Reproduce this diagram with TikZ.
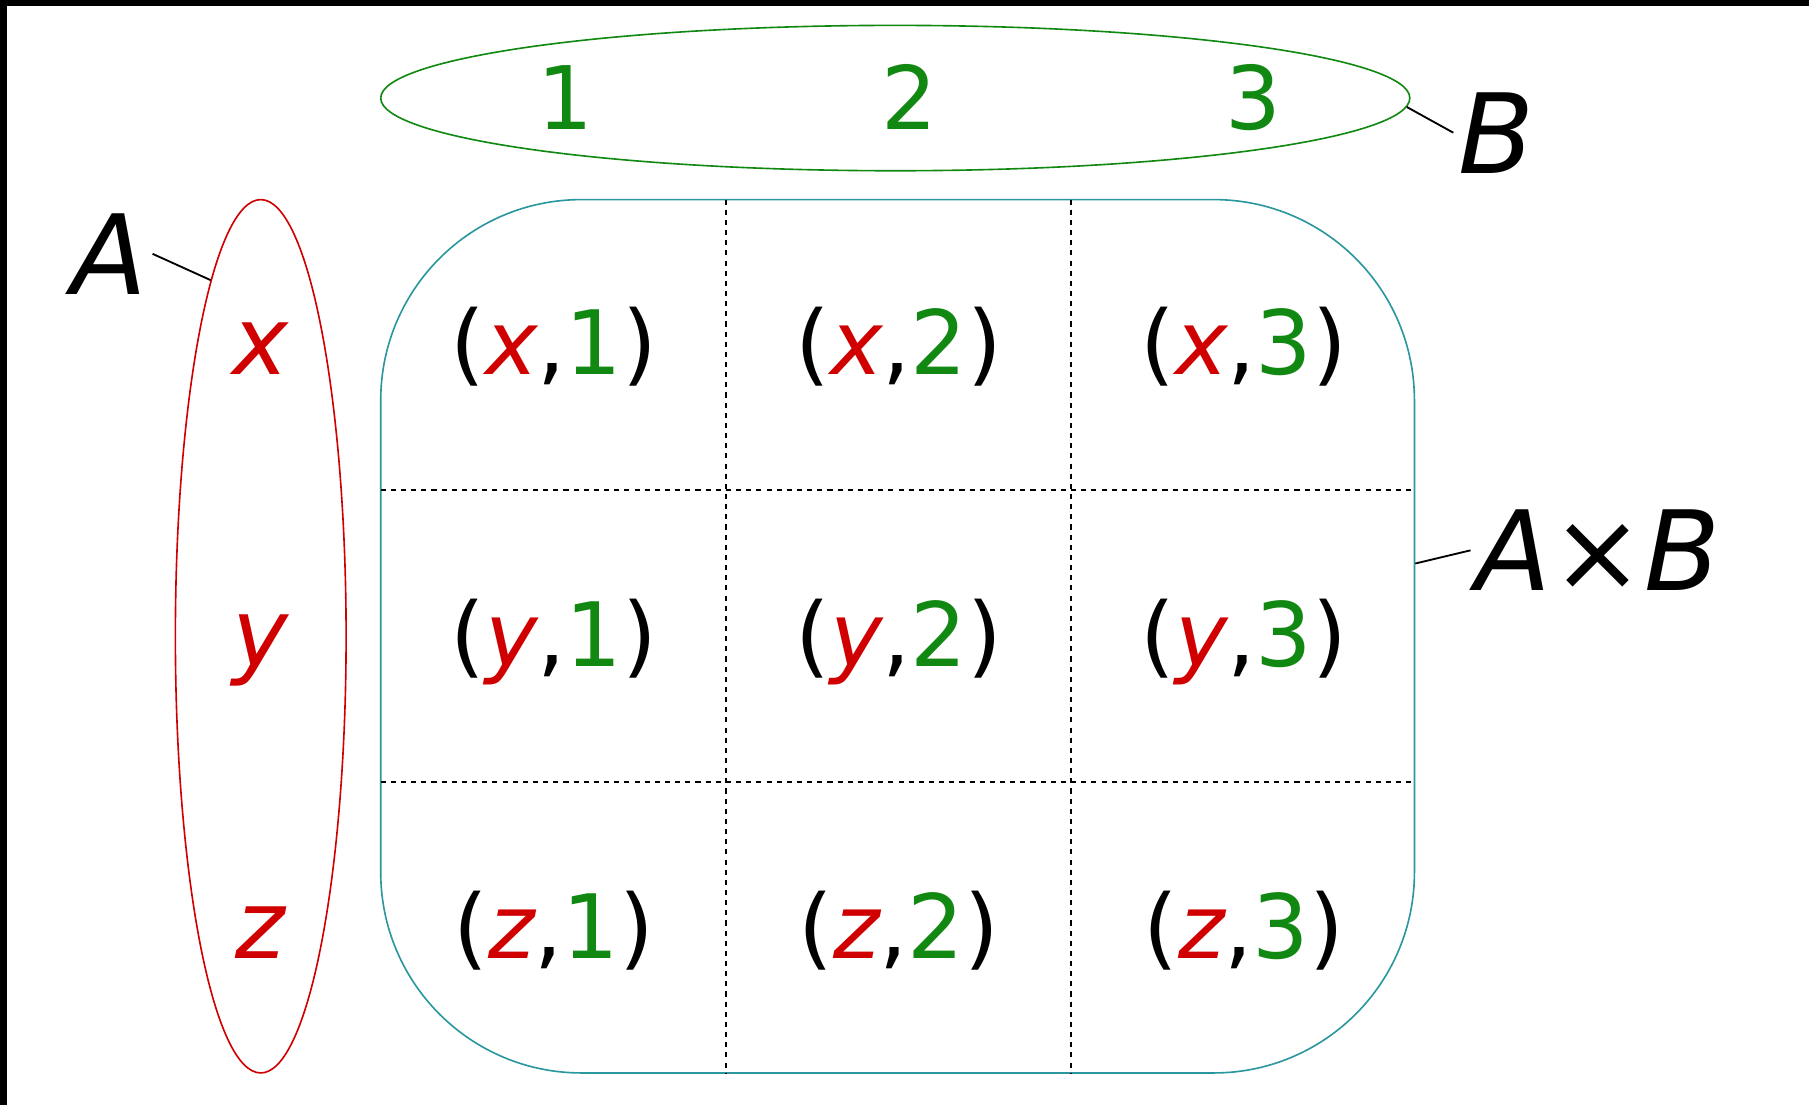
\documentclass[tikz,border=0pt]{standalone}
\usepackage{fontspec}
\setmainfont{DejaVu Sans}
\usetikzlibrary{shapes.geometric}
\definecolor{SetRed}{HTML}{D00000}
\definecolor{SetGreen}{HTML}{118811}
\definecolor{SetTeal}{HTML}{2A979E}
\newcommand{\ina}[1]{\textcolor{SetRed}{\itshape #1}}
\newcommand{\inb}[1]{\textcolor{SetGreen}{#1}}
\tikzset{
  redset/.style={ellipse, draw=SetRed, line width=0.7pt, inner sep=0pt,
    minimum width=74pt, minimum height=378.5pt},
  greenset/.style={ellipse, draw=SetGreen, line width=0.7pt, inner sep=0pt,
    minimum width=446pt, minimum height=63pt},
  prodbox/.style={rectangle, rounded corners=87pt, draw=SetTeal, line width=0.7pt,
    inner sep=0pt, minimum width=448pt, minimum height=378.5pt},
  elemA/.style={anchor=base, inner sep=0pt, text=SetRed,
    font=\fontsize{41}{44}\selectfont\itshape},
  elemB/.style={anchor=base, inner sep=0pt, text=SetGreen,
    font=\fontsize{38}{40}\selectfont},
  pairtext/.style={anchor=base, inner sep=0pt, font=\fontsize{38.5}{40}\selectfont},
  setname/.style={anchor=base, inner sep=2pt, font=\fontsize{48}{50}\selectfont},
  labelline/.style={draw, line width=0.8pt},
  cellline/.style={draw, line width=0.8pt, dash pattern=on 2.2pt off 2.2pt}
}
\begin{document}
\begin{tikzpicture}[x=0.5pt, y=-0.5pt]
\fill[black] (0,0) rectangle (1568,958);
\fill[white] (6,5) rectangle (1568,958);

% the two sets and their product
\node[greenset] (setB) at (776,85) {};
\node[redset]   (setA) at (226,551.5) {};
\node[prodbox]  (prod) at (778,551.5) {};

\foreach \gx in {629,928}
  \draw[cellline] (\gx,173) -- (\gx,930);
\foreach \gy in {425,678}
  \draw[cellline] (330,\gy) -- (1226,\gy);

\foreach \b [count=\j] in {1,2,3}
  \node[elemB] (b\j) at (192+298*\j,112) {\b};
\foreach \a [count=\i] in {x,y,z}
  \node[elemA] (a\i) at (226,72+253*\i) {\a};
\foreach \a [count=\i] in {x,y,z}
  \foreach \b [count=\j] in {1,2,3}
    \node[pairtext] (c\i\j) at (181+299*\j,72+253*\i) {(\ina{\a},\inb{\b})};

\node[setname] (labA)  at (95,255)   {\itshape A};
\node[setname] (labB)  at (1297,150) {\itshape B};
\node[setname] (labAB) at (1385,512) {\itshape A\upshape×\itshape B};

\draw[labelline] (labA.east) -- (setA.98);
\draw[labelline] (setB.-1)   -- (labB.west);
\draw[labelline] (prod.8)    -- (labAB.west);

\end{tikzpicture}
\end{document}
